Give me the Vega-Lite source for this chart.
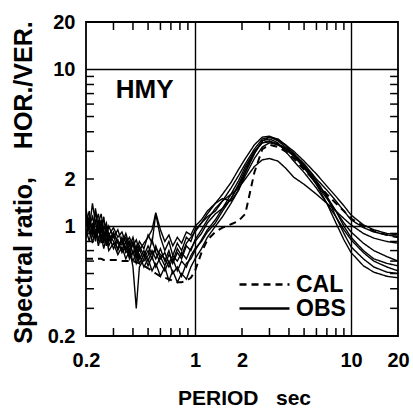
{
  "$schema": "https://vega.github.io/schema/vega-lite/v6.json",
  "width": 312,
  "height": 314,
  "autosize": {"type": "none"},
  "padding": {"left": 86, "top": 22, "right": 15, "bottom": 78},
  "background": "white",
  "config": {
    "view": {"stroke": "black", "strokeWidth": 1.8},
    "font": "Liberation Sans",
    "axis": {
      "labelFont": "Liberation Sans",
      "labelFontWeight": "bold",
      "labelFontSize": 20,
      "labelColor": "black",
      "titleFont": "Liberation Sans",
      "titleFontWeight": "bold",
      "titleColor": "black",
      "domain": false,
      "gridColor": "black",
      "gridWidth": 1.4
    }
  },
  "datasets": {
    "minor": [
      {"t": 0.3}, {"t": 0.4}, {"t": 0.5}, {"t": 0.6}, {"t": 0.7}, {"t": 0.8}, {"t": 0.9},
      {"t": 2}, {"t": 3}, {"t": 4}, {"t": 5}, {"t": 6}, {"t": 7}, {"t": 8}, {"t": 9}
    ]
  },
  "data": {
    "values": [
      {"p": 0.20, "A": 1.30, "B": 1.05, "C": 0.85, "D": 0.95, "E": 1.15, "F": 0.90, "G": 1.20, "H": 1.00, "CAL": 0.62},
      {"p": 0.21, "A": 0.95, "B": 1.25, "C": 1.10, "D": 0.80, "E": 0.90, "F": 1.00, "G": 1.00, "H": 1.15, "CAL": 0.62},
      {"p": 0.22, "A": 1.40, "B": 0.85, "C": 0.95, "D": 1.05, "E": 1.00, "F": 0.78, "G": 1.15, "H": 0.90, "CAL": 0.62},
      {"p": 0.23, "A": 1.05, "B": 1.10, "C": 1.25, "D": 0.85, "E": 0.80, "F": 0.95, "G": 0.92, "H": 1.30, "CAL": 0.62},
      {"p": 0.24, "A": 1.20, "B": 0.80, "C": 0.90, "D": 1.00, "E": 1.10, "F": 0.75, "G": 1.05, "H": 0.95, "CAL": 0.62},
      {"p": 0.25, "A": 0.90, "B": 1.00, "C": 1.05, "D": 0.78, "E": 0.85, "F": 0.88, "G": 1.20, "H": 1.10, "CAL": 0.62},
      {"p": 0.26, "A": 1.15, "B": 0.78, "C": 0.82, "D": 0.92, "E": 0.95, "F": 0.72, "G": 0.95, "H": 0.88, "CAL": 0.61},
      {"p": 0.27, "A": 0.85, "B": 0.95, "C": 1.00, "D": 0.75, "E": 0.78, "F": 0.85, "G": 1.05, "H": 0.92, "CAL": 0.61},
      {"p": 0.28, "A": 1.00, "B": 0.75, "C": 0.80, "D": 0.88, "E": 0.90, "F": 0.70, "G": 0.88, "H": 0.82, "CAL": 0.61},
      {"p": 0.30, "A": 0.85, "B": 0.88, "C": 0.92, "D": 0.72, "E": 0.80, "F": 0.78, "G": 0.98, "H": 0.90, "CAL": 0.61},
      {"p": 0.32, "A": 0.95, "B": 0.70, "C": 0.78, "D": 0.82, "E": 0.72, "F": 0.66, "G": 0.85, "H": 0.80, "CAL": 0.61},
      {"p": 0.34, "A": 0.78, "B": 0.82, "C": 0.70, "D": 0.68, "E": 0.85, "F": 0.74, "G": 0.92, "H": 0.76, "CAL": 0.60},
      {"p": 0.36, "A": 0.90, "B": 0.68, "C": 0.80, "D": 0.75, "E": 0.70, "F": 0.62, "G": 0.78, "H": 0.85, "CAL": 0.60},
      {"p": 0.38, "A": 0.75, "B": 0.72, "C": 0.65, "D": 0.62, "E": 0.80, "F": 0.70, "G": 0.85, "H": 0.70, "CAL": 0.60},
      {"p": 0.40, "A": 0.85, "B": 0.55, "C": 0.78, "D": 0.70, "E": 0.66, "F": 0.60, "G": 0.75, "H": 0.80, "CAL": 0.60},
      {"p": 0.42, "A": 0.70, "B": 0.30, "C": 0.62, "D": 0.58, "E": 0.75, "F": 0.68, "G": 0.82, "H": 0.66, "CAL": 0.59},
      {"p": 0.44, "A": 0.80, "B": 0.55, "C": 0.72, "D": 0.66, "E": 0.62, "F": 0.58, "G": 0.70, "H": 0.75, "CAL": 0.58},
      {"p": 0.47, "A": 0.72, "B": 0.62, "C": 0.60, "D": 0.55, "E": 0.70, "F": 0.66, "G": 0.78, "H": 0.65, "CAL": 0.56},
      {"p": 0.50, "A": 0.88, "B": 0.70, "C": 0.65, "D": 0.62, "E": 0.60, "F": 0.56, "G": 0.85, "H": 0.75, "CAL": 0.54},
      {"p": 0.53, "A": 0.78, "B": 0.62, "C": 0.82, "D": 0.52, "E": 0.70, "F": 0.64, "G": 0.95, "H": 0.66, "CAL": 0.52},
      {"p": 0.56, "A": 1.20, "B": 0.75, "C": 0.68, "D": 0.58, "E": 0.62, "F": 0.55, "G": 1.22, "H": 0.72, "CAL": 0.50},
      {"p": 0.60, "A": 0.85, "B": 0.62, "C": 0.58, "D": 0.48, "E": 0.72, "F": 0.64, "G": 0.95, "H": 0.66, "CAL": 0.48},
      {"p": 0.64, "A": 0.70, "B": 0.68, "C": 0.52, "D": 0.55, "E": 0.60, "F": 0.56, "G": 0.80, "H": 0.62, "CAL": 0.47},
      {"p": 0.68, "A": 0.80, "B": 0.58, "C": 0.60, "D": 0.45, "E": 0.70, "F": 0.66, "G": 0.88, "H": 0.55, "CAL": 0.46},
      {"p": 0.72, "A": 0.65, "B": 0.65, "C": 0.50, "D": 0.52, "E": 0.58, "F": 0.60, "G": 0.75, "H": 0.62, "CAL": 0.45},
      {"p": 0.77, "A": 0.78, "B": 0.60, "C": 0.55, "D": 0.44, "E": 0.68, "F": 0.72, "G": 0.85, "H": 0.52, "CAL": 0.44},
      {"p": 0.82, "A": 0.70, "B": 0.68, "C": 0.48, "D": 0.50, "E": 0.62, "F": 0.65, "G": 0.78, "H": 0.60, "CAL": 0.44},
      {"p": 0.88, "A": 0.85, "B": 0.62, "C": 0.58, "D": 0.46, "E": 0.75, "F": 0.78, "G": 0.92, "H": 0.55, "CAL": 0.45},
      {"p": 0.94, "A": 0.80, "B": 0.72, "C": 0.62, "D": 0.55, "E": 0.70, "F": 0.85, "G": 0.88, "H": 0.65, "CAL": 0.47},
      {"p": 1.0, "A": 0.95, "B": 0.80, "C": 0.70, "D": 0.62, "E": 0.82, "F": 0.92, "G": 1.00, "H": 0.72, "CAL": 0.52},
      {"p": 1.1, "A": 1.05, "B": 0.90, "C": 0.82, "D": 0.72, "E": 0.95, "F": 1.05, "G": 1.10, "H": 0.80, "CAL": 0.68},
      {"p": 1.2, "A": 1.15, "B": 1.05, "C": 0.95, "D": 0.85, "E": 1.10, "F": 1.20, "G": 1.25, "H": 0.92, "CAL": 0.82},
      {"p": 1.35, "A": 1.25, "B": 1.20, "C": 1.10, "D": 1.00, "E": 1.30, "F": 1.40, "G": 1.40, "H": 1.05, "CAL": 0.92},
      {"p": 1.5, "A": 1.45, "B": 1.30, "C": 1.30, "D": 1.15, "E": 1.45, "F": 1.50, "G": 1.60, "H": 1.25, "CAL": 0.98},
      {"p": 1.7, "A": 1.75, "B": 1.50, "C": 1.60, "D": 1.40, "E": 1.60, "F": 1.45, "G": 1.90, "H": 1.50, "CAL": 1.03},
      {"p": 1.9, "A": 2.10, "B": 1.80, "C": 1.95, "D": 1.70, "E": 1.75, "F": 1.70, "G": 2.30, "H": 1.85, "CAL": 1.08},
      {"p": 2.1, "A": 2.50, "B": 2.20, "C": 2.40, "D": 2.10, "E": 2.00, "F": 2.20, "G": 2.70, "H": 2.30, "CAL": 1.20},
      {"p": 2.4, "A": 3.10, "B": 2.90, "C": 3.00, "D": 2.70, "E": 2.40, "F": 2.90, "G": 3.30, "H": 3.00, "CAL": 2.20},
      {"p": 2.7, "A": 3.60, "B": 3.50, "C": 3.40, "D": 3.20, "E": 2.65, "F": 3.50, "G": 3.70, "H": 3.40, "CAL": 3.10},
      {"p": 3.0, "A": 3.70, "B": 3.60, "C": 3.50, "D": 3.40, "E": 2.70, "F": 3.70, "G": 3.75, "H": 3.45, "CAL": 3.30},
      {"p": 3.4, "A": 3.50, "B": 3.40, "C": 3.30, "D": 3.30, "E": 2.60, "F": 3.60, "G": 3.55, "H": 3.35, "CAL": 3.20},
      {"p": 3.8, "A": 3.20, "B": 3.00, "C": 3.10, "D": 3.10, "E": 2.35, "F": 3.30, "G": 3.30, "H": 3.15, "CAL": 3.00},
      {"p": 4.3, "A": 2.90, "B": 2.60, "C": 2.80, "D": 2.80, "E": 2.05, "F": 2.90, "G": 3.00, "H": 2.85, "CAL": 2.70},
      {"p": 5.0, "A": 2.50, "B": 2.20, "C": 2.35, "D": 2.40, "E": 1.85, "F": 2.40, "G": 2.60, "H": 2.45, "CAL": 2.30},
      {"p": 6.0, "A": 2.00, "B": 1.75, "C": 1.85, "D": 1.90, "E": 1.60, "F": 1.85, "G": 2.15, "H": 1.95, "CAL": 1.90},
      {"p": 7.0, "A": 1.70, "B": 1.40, "C": 1.50, "D": 1.55, "E": 1.40, "F": 1.40, "G": 1.80, "H": 1.55, "CAL": 1.60},
      {"p": 8.0, "A": 1.45, "B": 1.15, "C": 1.25, "D": 1.25, "E": 1.25, "F": 1.05, "G": 1.55, "H": 1.15, "CAL": 1.40},
      {"p": 9.0, "A": 1.25, "B": 0.95, "C": 1.05, "D": 1.00, "E": 1.12, "F": 0.82, "G": 1.35, "H": 0.90, "CAL": 1.25},
      {"p": 10, "A": 1.10, "B": 0.82, "C": 0.92, "D": 0.85, "E": 1.02, "F": 0.68, "G": 1.18, "H": 0.74, "CAL": 1.12},
      {"p": 12, "A": 0.98, "B": 0.68, "C": 0.78, "D": 0.70, "E": 0.90, "F": 0.56, "G": 1.02, "H": 0.62, "CAL": 1.00},
      {"p": 14, "A": 0.92, "B": 0.60, "C": 0.70, "D": 0.62, "E": 0.84, "F": 0.51, "G": 0.95, "H": 0.55, "CAL": 0.93},
      {"p": 17, "A": 0.88, "B": 0.55, "C": 0.64, "D": 0.58, "E": 0.80, "F": 0.48, "G": 0.90, "H": 0.51, "CAL": 0.88},
      {"p": 20, "A": 0.86, "B": 0.52, "C": 0.60, "D": 0.56, "E": 0.78, "F": 0.47, "G": 0.88, "H": 0.50, "CAL": 0.85}
    ]
  },
  "layer": [
    {
      "transform": [{"fold": ["A", "B", "C", "D", "E", "F", "G", "H"], "as": ["series", "ratio"]}],
      "mark": {"type": "line", "stroke": "black", "strokeWidth": 1.4, "clip": true},
      "encoding": {
        "x": {
          "field": "p",
          "type": "quantitative",
          "scale": {"type": "log", "domain": [0.2, 20], "nice": false},
          "axis": {
            "orient": "bottom",
            "values": [0.2, 1, 2, 10, 20],
            "ticks": false,
            "labelExpr": "datum.value == 0.2 ? '0.2' : datum.value == 1 ? '1' : datum.value == 2 ? '2' : datum.value == 10 ? '10' : '20'",
            "labelFlush": false,
            "labelOverlap": false,
            "labelPadding": 14,
            "grid": true,
            "gridOpacity": {"condition": {"test": "datum.value == 1 || datum.value == 10", "value": 1}, "value": 0},
            "title": "PERIOD\u00a0\u00a0\u00a0sec",
            "titleFontSize": 21,
            "titleX": 158,
            "titleY": 62,
            "titleBaseline": "middle",
            "titleAlign": "center"
          }
        },
        "y": {
          "field": "ratio",
          "type": "quantitative",
          "scale": {"type": "log", "domain": [0.2, 20], "nice": false},
          "axis": {
            "orient": "left",
            "values": [0.2, 1, 2, 10, 20],
            "ticks": false,
            "labelExpr": "datum.value == 0.2 ? '0.2' : datum.value == 1 ? '1' : datum.value == 2 ? '2' : datum.value == 10 ? '10' : '20'",
            "labelFlush": false,
            "labelOverlap": false,
            "labelPadding": 11,
            "grid": true,
            "gridOpacity": {"condition": {"test": "datum.value == 1 || datum.value == 10", "value": 1}, "value": 0},
            "title": "Spectral ratio,\u00a0\u00a0\u00a0\u00a0HOR./VER.",
            "titleFontSize": 25,
            "titleX": -63,
            "titleY": 160,
            "titleAngle": -90,
            "titleBaseline": "middle",
            "titleAlign": "center"
          }
        },
        "detail": {"field": "series"},
        "strokeDash": {
          "datum": "OBS",
          "type": "nominal",
          "scale": {"domain": ["CAL", "OBS"], "range": [[7, 5], [1, 0]]},
          "legend": {
            "title": null,
            "orient": "none",
            "legendX": 152,
            "legendY": 251,
            "symbolType": "stroke",
            "symbolSize": 2500,
            "symbolStrokeWidth": 2.4,
            "symbolStrokeColor": "black",
            "labelFont": "Liberation Sans",
            "labelFontSize": 23,
            "labelFontWeight": "bold",
            "labelColor": "black",
            "labelOffset": 5,
            "clipHeight": 23,
            "rowPadding": 0
          }
        }
      }
    },
    {
      "mark": {"type": "line", "stroke": "black", "strokeWidth": 2, "clip": true},
      "encoding": {
        "x": {"field": "p", "type": "quantitative"},
        "y": {"field": "CAL", "type": "quantitative"},
        "strokeDash": {"datum": "CAL", "type": "nominal"}
      }
    },
    {
      "data": {"values": [{"label": "HMY"}]},
      "mark": {"type": "text", "font": "Liberation Sans", "fontSize": 26, "fontWeight": "bold", "align": "left", "baseline": "middle", "color": "black"},
      "encoding": {
        "x": {"datum": 0.31, "type": "quantitative"},
        "y": {"datum": 7.4, "type": "quantitative"},
        "text": {"field": "label"}
      }
    },
    {
      "data": {"name": "minor"},
      "mark": {"type": "rule", "strokeWidth": 1.5, "color": "black"},
      "encoding": {
        "x": {"field": "t", "type": "quantitative"},
        "y": {"datum": 0.2, "type": "quantitative"},
        "y2": {"datum": 0.225}
      }
    },
    {
      "data": {"name": "minor"},
      "mark": {"type": "rule", "strokeWidth": 1.5, "color": "black"},
      "encoding": {
        "x": {"field": "t", "type": "quantitative"},
        "y": {"datum": 20, "type": "quantitative"},
        "y2": {"datum": 17.8}
      }
    },
    {
      "data": {"name": "minor"},
      "mark": {"type": "rule", "strokeWidth": 1.5, "color": "black"},
      "encoding": {
        "y": {"field": "t", "type": "quantitative"},
        "x": {"datum": 0.2, "type": "quantitative"},
        "x2": {"datum": 0.225}
      }
    },
    {
      "data": {"name": "minor"},
      "mark": {"type": "rule", "strokeWidth": 1.5, "color": "black"},
      "encoding": {
        "y": {"field": "t", "type": "quantitative"},
        "x": {"datum": 20, "type": "quantitative"},
        "x2": {"datum": 17.8}
      }
    }
  ]
}
